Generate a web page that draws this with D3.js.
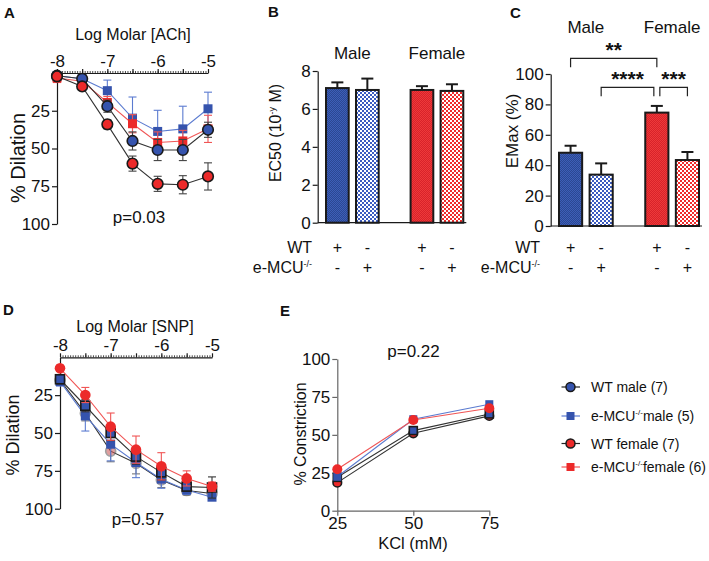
<!DOCTYPE html>
<html><head><meta charset="utf-8">
<script src="https://cdn.jsdelivr.net/npm/d3@7"></script>
<style>body{margin:0;background:#fff}svg{font-family:"Liberation Sans",Arial,sans-serif;background:#fff}</style>
</head><body><svg id="c" width="709" height="561"></svg>
<script>
// ---------- DATA ----------
const doseLog = [-8, -7.5, -7, -6.5, -6, -5.5, -5];
const majorTicksLog = [-8, -7.5, -7, -6.5, -6, -5.5, -5];
const dilationTicks = [25, 50, 75, 100];

// Panel A (ACh)
const achWTmale = [1.8, 3.8, 22, 45, 51, 51, 37.6];
const achWTmaleErr = [1, 1.5, 4, 6, 7, 7, 5];
const achKOmale = [1.8, 3.8, 11.7, 29.9, 38.7, 37, 23.7];
const achKOmaleErr = [1, 2, 7, 14, 14, 15, 11];
const achWTfemale = [2.2, 8.9, 34, 60, 73.4, 74, 68.5];
const achWTfemaleErr = [1, 1.5, 3, 5, 5, 6, 9];
const achKOfemale = [3.3, 5.5, 19.5, 33.6, 46, 45, 37];
const achKOfemaleErr = [3, 1.5, 4, 6, 7, 7, 9];

// Panel B / C
const sexes = ["Male", "Female"];
const genotypes = ["WT", "KO"];
const ec50 = [7.1, 7.0, 7.0, 6.95];
const ec50Err = [0.3, 0.6, 0.2, 0.35];
const ec50Ticks = [0, 2, 4, 6, 8];
const emax = [48.2, 33.8, 74.6, 43.4];
const emaxErr = [4.6, 7.4, 4.4, 5.3];
const emaxTicks = [0, 20, 40, 60, 80, 100];
const rowWT = ["+", "-", "+", "-"];
const rowKO = ["-", "+", "-", "+"];
const sigPairs = [[0, 2], [1, 2], [2, 3]];
const sigLabels = ["**", "****", "***"];

// Panel D (SNP)
const snpWTfemale = [15, 37, 62, 70, 81, 88, 90];
const snpWTfemaleErr = [3, 5, 7, 7, 5, 3, 3];
const snpKOmale = [16, 38.7, 57.4, 69.5, 80.5, 87.6, 92.4];
const snpKOmaleErr = [3, 10, 11, 10, 6, 3, 2];
const snpWTmale = [14.5, 32, 50, 65.6, 76, 85.4, 86];
const snpWTmaleErr = [3, 4, 5, 5, 5, 3, 7];
const snpKOfemale = [7.3, 24.9, 45.8, 61, 72, 80, 85.4];
const snpKOfemaleErr = [2, 5, 9, 9, 9, 5, 3];

// Panel E (KCl)
const kcl = [25, 50, 75];
const kclTicksY = [0, 25, 50, 75, 100];
const kclWTmale = [22, 52.8, 63.8];
const kclKOmale = [22.4, 60.3, 70.2];
const kclWTfemale = [18.5, 51, 62.5];
const kclKOfemale = [27.3, 59.8, 67.5];

const legendLabels = ["WT male (7)", "male (5)", "WT female (7)", "female (6)"];

// ---------- STYLE ----------
const BLUE = "#3553ad", BLUE_L = "#5b7bd0", RED = "#ec2a2a", RED_L = "#f05555", BLACK = "#1a1a1a";
const svg = d3.select("#c");
const defs = svg.append("defs");
function checker(id, bg, fg, cell) {
  const p = defs.append("pattern").attr("id", id).attr("patternUnits", "userSpaceOnUse")
    .attr("width", cell * 2).attr("height", cell * 2);
  p.append("rect").attr("width", cell * 2).attr("height", cell * 2).attr("fill", bg);
  p.append("rect").attr("width", cell).attr("height", cell).attr("fill", fg);
  p.append("rect").attr("x", cell).attr("y", cell).attr("width", cell).attr("height", cell).attr("fill", fg);
}
checker("wtBlue", "#2b4793", "#3d5fb8", 1);
checker("koBlue", "#ffffff", "#3b5bc0", 2);
checker("wtRed", "#d8222a", "#ee3a3a", 1);
checker("koRed", "#ffffff", "#f02b2b", 2);
const fills = ["url(#wtBlue)", "url(#koBlue)", "url(#wtRed)", "url(#koRed)"];

function txt(x, y, s, opt = {}) {
  const t = svg.append("text").attr("x", x).attr("y", y).text(s)
    .attr("font-size", opt.size || 16).attr("fill", opt.fill || "#111")
    .attr("text-anchor", opt.anchor || "middle");
  if (opt.bold) t.attr("font-weight", "bold");
  if (opt.rotate) t.attr("transform", `rotate(-90,${x},${y})`);
  return t;
}
function styleAxis(g, color) {
  g.selectAll("path,line").attr("stroke", color || BLACK).attr("stroke-width", 1.2);
  g.selectAll("text").attr("font-size", 17).attr("fill", "#111")
    .attr("font-family", '"Liberation Sans",Arial,sans-serif');
}

function series(g, x, y, xs, vals, errs, o) {
  const line = d3.line().x((d, i) => x(xs[i])).y(d => y(d));
  g.append("path").datum(vals).attr("d", line).attr("fill", "none")
    .attr("stroke", o.line).attr("stroke-width", 1.1);
  if (errs) {
    const eg = g.append("g").attr("stroke", o.err).attr("stroke-width", 1.1);
    vals.forEach((v, i) => {
      const cx = x(xs[i]);
      const t = y(v - errs[i]), b = y(v + errs[i]);
      eg.append("line").attr("x1", cx).attr("x2", cx).attr("y1", t).attr("y2", b);
      eg.append("line").attr("x1", cx - 4).attr("x2", cx + 4).attr("y1", t).attr("y2", t);
      eg.append("line").attr("x1", cx - 4).attr("x2", cx + 4).attr("y1", b).attr("y2", b);
    });
  }
  vals.forEach((v, i) => {
    const cx = x(xs[i]), cy = y(v);
    let m;
    if (o.shape === "circle") {
      m = g.append("circle").attr("cx", cx).attr("cy", cy).attr("r", o.r || 5.3);
    } else {
      const s = o.s || 9;
      m = g.append("rect").attr("x", cx - s / 2).attr("y", cy - s / 2).attr("width", s).attr("height", s);
    }
    m.attr("fill", o.fill).attr("stroke", o.stroke || "none").attr("stroke-width", 1.6)
      .attr("opacity", o.opacity || 1);
  });
}

function logTopAxis(x, yPos) {
  const g = svg.append("g").attr("transform", `translate(0,${yPos})`);
  const minor = d3.range(0, 61).map(i => -8 + i * 0.05);
  const gm = g.append("g").call(d3.axisTop(x).tickValues(minor).tickSize(2).tickFormat(""));
  gm.select(".domain").remove();
  styleAxis(gm);
  gm.selectAll("line").attr("stroke-width", 0.8);
  const ga = g.append("g").call(d3.axisTop(x).tickValues(majorTicksLog).tickSize(4).tickSizeOuter(0)
    .tickPadding(2).tickFormat(d => Number.isInteger(d) ? String(d) : ""));
  styleAxis(ga);
}

// ---------- PANEL A ----------
const xA = d3.scaleLinear().domain([-8, -5]).range([57, 208]);
const yA = d3.scaleLinear().domain([0, 100]).range([73, 224]);
txt(4, 18, "A", { bold: true, anchor: "start", size: 15 });
txt(133, 40, "Log Molar [ACh]", { size: 16 });
logTopAxis(xA, 73);
styleAxis(svg.append("g").attr("transform", "translate(57,0)")
  .call(d3.axisLeft(yA).tickValues(dilationTicks).tickSize(5).tickPadding(2).tickSizeOuter(0)));
txt(25, 158, "% Dilation", { size: 20, rotate: true });
const gA = svg.append("g");
series(gA, xA, yA, doseLog, achKOmale, achKOmaleErr, { line: BLUE_L, err: BLUE_L, shape: "rect", fill: BLUE });
series(gA, xA, yA, doseLog, achKOfemale, achKOfemaleErr, { line: RED_L, err: RED_L, shape: "rect", fill: RED });
series(gA, xA, yA, doseLog, achWTmale, achWTmaleErr, { line: "#333", err: "#444", shape: "circle", fill: BLUE, stroke: BLACK });
series(gA, xA, yA, doseLog, achWTfemale, achWTfemaleErr, { line: "#333", err: "#444", shape: "circle", fill: RED, stroke: BLACK });
txt(139, 223, "p=0.03", { size: 17 });

// ---------- BAR PANELS ----------
function barPanel(o) {
  const outer = d3.scaleBand().domain(sexes).range(o.xr).paddingInner(0.377);
  const inner = d3.scaleBand().domain(genotypes).range([0, outer.bandwidth()]).paddingInner(0.243);
  const y = d3.scaleLinear().domain(o.dom).range(o.yr);
  const bx = i => outer(sexes[Math.floor(i / 2)]) + inner(genotypes[i % 2]);
  const cx = i => bx(i) + inner.bandwidth() / 2;
  styleAxis(svg.append("g").attr("transform", `translate(${o.axisX},0)`)
    .call(d3.axisLeft(y).tickValues(o.ticks).tickSize(5).tickPadding(2).tickSizeOuter(0)));
  svg.append("line").attr("x1", o.axisX).attr("x2", o.xr[1] + 3).attr("y1", y(0)).attr("y2", y(0))
    .attr("stroke", BLACK).attr("stroke-width", 1.2);
  o.vals.forEach((v, i) => {
    const top = y(v), et = y(v + o.errs[i]);
    svg.append("line").attr("x1", cx(i)).attr("x2", cx(i)).attr("y1", top).attr("y2", et)
      .attr("stroke", BLACK).attr("stroke-width", 2);
    svg.append("line").attr("x1", cx(i) - 6).attr("x2", cx(i) + 6).attr("y1", et).attr("y2", et)
      .attr("stroke", BLACK).attr("stroke-width", 2);
    svg.append("rect").attr("x", bx(i)).attr("y", top).attr("width", inner.bandwidth())
      .attr("height", y(0) - top).attr("fill", fills[i]).attr("stroke", BLACK).attr("stroke-width", 2);
    txt(cx(i), 253, rowWT[i], { size: 16 });
    txt(cx(i), 273, rowKO[i], { size: 16 });
  });
  sexes.forEach(s => txt(outer(s) + outer.bandwidth() / 2, o.sexY, s, { size: 17 }));
  txt(o.rowX, 253, "WT", { size: 16, anchor: "end" });
  const t = txt(o.rowX, 273, "e-MCU", { size: 16, anchor: "end" });
  t.append("tspan").text("-/-").attr("font-size", 9).attr("dy", -6);
  return { y, cx };
}

// B
txt(268, 17, "B", { bold: true, anchor: "start", size: 15 });
barPanel({ xr: [326, 463.3], yr: [222.7, 71], dom: [0, 8], axisX: 317.7, ticks: ec50Ticks,
  vals: ec50, errs: ec50Err, sexY: 59, rowX: 312 });
const tB = txt(281, 133, "EC50 (10", { size: 16, rotate: true });
tB.append("tspan").text("-y").attr("font-size", 9).attr("dy", -6);
tB.append("tspan").text(" M)").attr("dy", 6);

// C
txt(510, 18, "C", { bold: true, anchor: "start", size: 15 });
const C = barPanel({ xr: [559, 699], yr: [226, 74], dom: [0, 100], axisX: 550.7, ticks: emaxTicks,
  vals: emax, errs: emaxErr, sexY: 33, rowX: 540 });
txt(518, 131, "EMax (%)", { size: 17, rotate: true });
const sigLevels = [110.3, 91.2, 91.2];
sigPairs.forEach((p, k) => {
  let x1 = C.cx(p[0]), x2 = C.cx(p[1]);
  if (k === 1) x2 -= 3;
  if (k === 2) x1 += 3;
  const yl = C.y(sigLevels[k]), yt = C.y(sigLevels[k] - 5.8);
  svg.append("path").attr("d", `M${x1},${yt}V${yl}H${x2}V${yt}`).attr("fill", "none")
    .attr("stroke", "#222").attr("stroke-width", 1.2);
  txt((x1 + x2) / 2, yl - 1, sigLabels[k], { size: 21, bold: true });
});

// ---------- PANEL D ----------
const xD = d3.scaleLinear().domain([-8, -5]).range([60, 212]);
const yD = d3.scaleLinear().domain([0, 100]).range([357.3, 508.7]);
txt(3, 315, "D", { bold: true, anchor: "start", size: 15 });
txt(135, 332, "Log Molar [SNP]", { size: 16 });
logTopAxis(xD, 357.3);
styleAxis(svg.append("g").attr("transform", "translate(60,0)")
  .call(d3.axisLeft(yD).tickValues(dilationTicks).tickSize(5).tickPadding(2).tickSizeOuter(0)));
txt(19, 435, "% Dilation", { size: 18, rotate: true });
const gD = svg.append("g");
series(gD, xD, yD, doseLog, snpWTfemale, snpWTfemaleErr, { line: "#333", err: "#777", shape: "circle", fill: "#c85050", stroke: "#555", opacity: 0.55, r: 5 });
series(gD, xD, yD, doseLog, snpKOmale, snpKOmaleErr, { line: BLUE_L, err: BLUE_L, shape: "rect", fill: BLUE });
series(gD, xD, yD, doseLog, snpWTmale, snpWTmaleErr, { line: "#333", err: "#333", shape: "rect", fill: BLUE, stroke: BLACK, s: 9 });
series(gD, xD, yD, doseLog, snpKOfemale, snpKOfemaleErr, { line: RED_L, err: RED_L, shape: "circle", fill: RED });
txt(138, 525, "p=0.57", { size: 17 });

// ---------- PANEL E ----------
const xE = d3.scaleLinear().domain([25, 75]).range([337.3, 489.3]);
const yE = d3.scaleLinear().domain([0, 100]).range([510.7, 359]);
txt(280, 316, "E", { bold: true, anchor: "start", size: 15 });
styleAxis(svg.append("g").attr("transform", "translate(337.3,0)")
  .call(d3.axisLeft(yE).tickValues(kclTicksY).tickSize(5).tickPadding(2).tickSizeOuter(0)), "#666");
styleAxis(svg.append("g").attr("transform", "translate(0,510.7)")
  .call(d3.axisBottom(xE).tickValues(kcl).tickSize(5).tickPadding(1).tickSizeOuter(0)), "#666");
txt(306, 434, "% Constriction", { size: 16, rotate: true });
txt(413, 549, "KCl (mM)", { size: 16.5 });
txt(413.5, 357, "p=0.22", { size: 17 });
const gE = svg.append("g");
series(gE, xE, yE, kcl, kclWTfemale, null, { line: "#333", shape: "circle", fill: RED, stroke: BLACK, r: 4.3 });
series(gE, xE, yE, kcl, kclWTmale, null, { line: "#333", shape: "rect", fill: BLUE, stroke: BLACK, s: 8 });
series(gE, xE, yE, kcl, kclKOmale, null, { line: BLUE_L, shape: "rect", fill: BLUE, s: 8 });
series(gE, xE, yE, kcl, kclKOfemale, null, { line: RED_L, shape: "circle", fill: RED, r: 5 });

// ---------- LEGEND ----------
const legY = [387, 416, 443.5, 467];
const legStyle = [
  { line: "#222", shape: "circle", fill: BLUE, stroke: BLACK },
  { line: BLUE_L, shape: "rect", fill: BLUE },
  { line: "#222", shape: "circle", fill: RED, stroke: BLACK },
  { line: RED_L, shape: "rect", fill: RED }
];
legendLabels.forEach((l, i) => {
  const s = legStyle[i], y = legY[i];
  svg.append("line").attr("x1", 561.5).attr("x2", 580).attr("y1", y).attr("y2", y)
    .attr("stroke", s.line).attr("stroke-width", 1.2);
  if (s.shape === "circle") svg.append("circle").attr("cx", 570.5).attr("cy", y).attr("r", 4.5)
    .attr("fill", s.fill).attr("stroke", s.stroke).attr("stroke-width", 1.5);
  else svg.append("rect").attr("x", 566.5).attr("y", y - 4).attr("width", 8).attr("height", 8).attr("fill", s.fill);
  const t = txt(591, y + 5, i % 2 === 0 ? l : "e-MCU", { size: 14, anchor: "start" });
  if (i % 2 === 1) {
    t.append("tspan").text("-/-").attr("font-size", 8).attr("dy", -6);
    t.append("tspan").text(l).attr("dy", 6);
  }
});
</script></body></html>
